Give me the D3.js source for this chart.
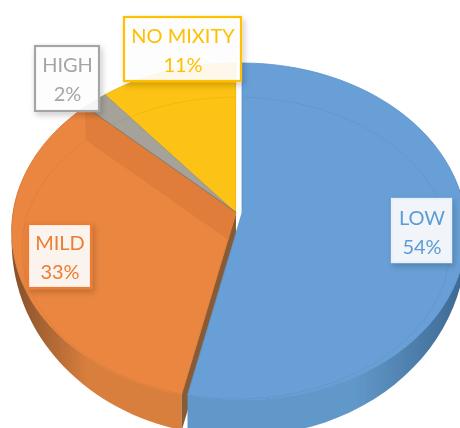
<!DOCTYPE html>
<html lang="en">
<head>
  <meta charset="utf-8">
  <title>Mixity pie</title>
  <script src="https://d3js.org/d3.v7.min.js"></script>
  <style>
    html, body { margin: 0; background: #fff; }
    svg { display: block; }
    text { font-family: Lato, "Open Sans", sans-serif; font-size: 20px; text-anchor: middle; }
  </style>
</head>
<body>
  <svg width="460" height="428"></svg>
  <script>
    const categories = ["LOW", "MILD", "HIGH", "NO MIXITY"];
    // shares, the labels round them
    const percents = [53.5, 33.5, 2, 11];
    const percentLabels = ["54%", "33%", "2%", "11%"];
    const topColors = ["#689fd6", "#ea8640", "#a5a299", "#fdc212"];
    const wallColors = ["#6198c9", "#d97f3e", "#8a8880", "#d8a510"];
    const wallDarks = ["#3d6892", "#85502a", "#6a6860", "#a88010"];
    const labelBoxes = [
      [392, 199, 59, 63],
      [28, 224, 63, 64],
      [35, 46, 64, 65],
      [124, 17, 117, 64]
    ];
    const labelBorders = ["#e9f0f9", "#ed7d31", "#a5a5a5", "#ffc000"];
    const labelText = ["#5b9bd5", "#ed7d31", "#a5a5a5", "#ffc000"];

    const svg = d3.select("svg");
    const defs = svg.append("defs");
    const color = d3.scaleOrdinal(categories, topColors);

    // disc coords -> screen, with a bit of perspective (k)
    const cx = 236, cy = 213, k = 0.11;
    const project = (u, v, dx = 0) => [cx + dx + 223 * u / (1 - k * v), cy + 166.5 * v / (1 - k * v)];
    const depthAt = v => Math.max(0, 6 + 30 * v);

    const arcs = d3.pie().sort(null).value(d => d)(percents);
    const dxOf = i => (i === 0 ? 6 : 0);
    const line = d3.line();

    const rim = (a0, a1) => d3.range(0, 61).map(j => {
      const a = a0 + (a1 - a0) * j / 60;
      return [Math.sin(a), -Math.cos(a)];
    });

    const blur = defs.append("filter").attr("id", "soft");
    blur.append("feGaussianBlur").attr("stdDeviation", 0.45);
    const shadow = defs.append("filter").attr("id", "shadow")
      .attr("x", "-20%").attr("y", "-20%").attr("width", "150%").attr("height", "150%");
    shadow.append("feDropShadow").attr("dx", 2).attr("dy", 3).attr("stdDeviation", 3)
      .attr("flood-color", "#000").attr("flood-opacity", 0.22);

    const chart = svg.append("g").attr("filter", "url(#soft)");

    categories.forEach((c, i) => {
      const g = defs.append("linearGradient").attr("id", "wall" + i);
      g.append("stop").attr("offset", 0).attr("stop-color", i === 1 ? wallDarks[i] : wallColors[i]);
      g.append("stop").attr("offset", i === 1 ? 0.45 : 0.6).attr("stop-color", wallColors[i]);
      g.append("stop").attr("offset", 1).attr("stop-color", i === 1 ? wallColors[i] : wallDarks[i]);
    });

    // draw order: small back slices first, blue last so it sits over the brown cut
    [3, 2, 1, 0].forEach(i => {
      const d = arcs[i], dx = dxOf(i);
      const pts = rim(d.startAngle, d.endAngle);
      const topRim = pts.map(p => project(p[0], p[1], dx));
      const lowRim = pts.map((p, j) => [topRim[j][0], topRim[j][1] + depthAt(p[1])]);

      // outer wall
      chart.append("path")
        .attr("d", line(topRim.concat(lowRim.slice().reverse())) + "Z")
        .attr("fill", "url(#wall" + i + ")");

      // cut face on the orange slice, seen through the gap to blue
      if (i === 1) {
        const e = project(pts[0][0], pts[0][1]);
        chart.append("path")
          .attr("d", line([project(0, 0), e, [e[0], e[1] + 36], [cx, cy + 36]]) + "Z")
          .attr("fill", "#8a5a30");
      }

      const face = [project(0, 0, dx)].concat(topRim);
      chart.append("path")
        .attr("d", line(face) + "Z")
        .attr("fill", color(categories[i]))
        .attr("stroke", i === 0 ? "#5b93cc" : d3.color(topColors[i]).darker(0.3))
        .attr("stroke-width", 0.8);

      defs.append("clipPath").attr("id", "face" + i).append("path").attr("d", line(face) + "Z");

      // darker bevel band along the upper straight edge, ends square under the rim corner
      if (i === 1) {
        const outer = project(Math.sin(d.endAngle), -Math.cos(d.endAngle));
        const apex = project(0, 0);
        const past = [apex[0] + (apex[0] - outer[0]) * 0.2, apex[1] + (apex[1] - outer[1]) * 0.2];
        chart.append("path")
          .attr("clip-path", "url(#face" + i + ")")
          .attr("d", line([past, outer, [outer[0] + 1, outer[1] + 33], [past[0] + 1, past[1] + 33]]) + "Z")
          .attr("fill", "#e07d3a");
      }

      // dark lower edge on the grey slice
      if (i === 2) {
        chart.append("path")
          .attr("d", line([project(0, 0), topRim[0]]))
          .attr("stroke", "#77766f").attr("stroke-width", 2);
      }

      // faint inner bevel ring
      chart.append("ellipse")
        .attr("clip-path", "url(#face" + i + ")")
        .attr("cx", cx).attr("cy", 248).attr("rx", 214).attr("ry", 151)
        .attr("fill", "none")
        .attr("stroke", d3.color(topColors[i]).darker(0.12))
        .attr("stroke-width", 1);
    });

    // white seam between yellow and blue
    chart.append("path")
      .attr("d", line([project(0, -0.985, 2), project(0, 0, 2)]))
      .attr("stroke", "#fff").attr("stroke-width", 3.5);

    const labels = chart.selectAll("g.label").data(categories).join("g").attr("class", "label");
    labels.append("rect")
      .attr("x", (c, i) => labelBoxes[i][0])
      .attr("y", (c, i) => labelBoxes[i][1])
      .attr("width", (c, i) => labelBoxes[i][2])
      .attr("height", (c, i) => labelBoxes[i][3])
      .attr("fill", "#fff").attr("fill-opacity", 0.9)
      .attr("stroke", (c, i) => labelBorders[i]).attr("stroke-width", 2.2)
      .attr("filter", "url(#shadow)");
    labels.append("text")
      .attr("x", (c, i) => labelBoxes[i][0] + labelBoxes[i][2] / 2 + 0.5)
      .attr("y", (c, i) => labelBoxes[i][1] + 26)
      .attr("fill", (c, i) => labelText[i])
      .text(c => c);
    labels.append("text")
      .attr("x", (c, i) => labelBoxes[i][0] + labelBoxes[i][2] / 2 + 0.5)
      .attr("y", (c, i) => labelBoxes[i][1] + 54.5)
      .attr("fill", (c, i) => labelText[i])
      .text((c, i) => percentLabels[i]);
  </script>
</body>
</html>
